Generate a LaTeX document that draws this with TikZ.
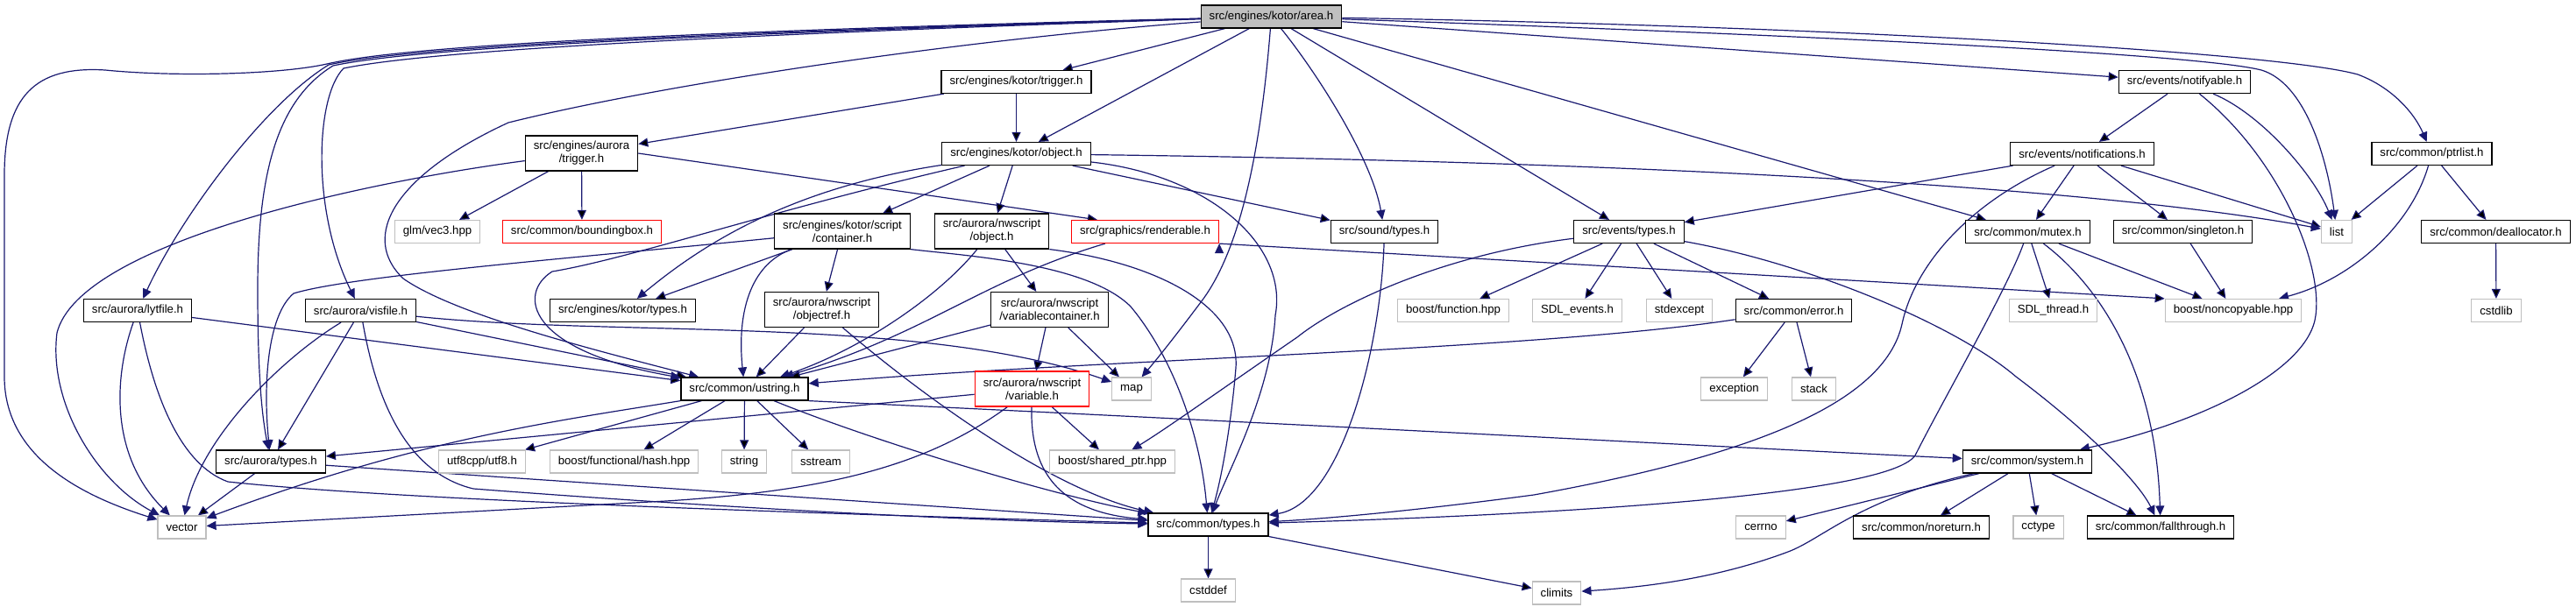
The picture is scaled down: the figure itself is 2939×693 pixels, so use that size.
\documentclass[tikz,border=0pt]{standalone}
\usepackage{fontspec}
\setmainfont{Liberation Sans}
\usetikzlibrary{arrows.meta, backgrounds}
\definecolor{edgeblue}{RGB}{25,25,112}
\definecolor{boxgray}{RGB}{191,191,191}

\begin{document}
\begin{tikzpicture}[x=1pt,y=-1pt,
  hdr/.style={draw=black,line width=1.2pt,fill=white,inner xsep=9.5pt,inner ysep=0pt,minimum height=26pt,align=center,font=\fontsize{13.2}{15}\selectfont},
  twoline/.style={minimum height=40pt},
  syshdr/.style={hdr,draw=boxgray},
  redhdr/.style={hdr,draw=red},
  roothdr/.style={hdr,fill=boxgray},
  dep/.style={draw=edgeblue,line width=1.2pt,-{Triangle[length=11pt,width=10pt]}}]
\useasboundingbox (0,0) rectangle (2939,693);

\node[roothdr] (area) at (1450.5,19) {src/engines/kotor/area.h};
\node[hdr] (ktrig) at (1159.5,93.5) {src/engines/kotor/trigger.h};
\node[hdr] (notifyable) at (2492.5,93.5) {src/events/notifyable.h};
\node[hdr,twoline] (atrig) at (663.5,175) {src/engines/aurora\\/trigger.h};
\node[hdr] (kobj) at (1159.5,175.5) {src/engines/kotor/object.h};
\node[hdr] (notif) at (2375.5,175.5) {src/events/notifications.h};
\node[hdr] (ptrlist) at (2774.5,175.5) {src/common/ptrlist.h};
\node[syshdr] (vec3) at (499,264.5) {glm/vec3.hpp};
\node[redhdr] (bbox) at (664,264.5) {src/common/boundingbox.h};
\node[hdr,twoline] (cont) at (961,264) {src/engines/kotor/script\\/container.h};
\node[hdr,twoline] (nwobj) at (1131.5,264) {src/aurora/nwscript\\/object.h};
\node[redhdr] (rend) at (1306.5,264.5) {src/graphics/renderable.h};
\node[hdr] (sndtypes) at (1579.5,264.5) {src/sound/types.h};
\node[hdr] (evtypes) at (1858.5,264.5) {src/events/types.h};
\node[hdr] (mutex) at (2313.5,264.5) {src/common/mutex.h};
\node[hdr] (singleton) at (2490.5,264.5) {src/common/singleton.h};
\node[syshdr] (list) at (2666,264.5) {list};
\node[hdr] (dealloc) at (2847.5,264.5) {src/common/deallocator.h};
\node[hdr] (lytfile) at (157,354.5) {src/aurora/lytfile.h};
\node[hdr] (visfile) at (411.5,354.5) {src/aurora/visfile.h};
\node[hdr] (ktypes) at (710.5,354.5) {src/engines/kotor/types.h};
\node[hdr,twoline] (objref) at (937.5,353.5) {src/aurora/nwscript\\/objectref.h};
\node[hdr,twoline] (varcont) at (1197.5,353.5) {src/aurora/nwscript\\/variablecontainer.h};
\node[syshdr] (function) at (1658,354.5) {boost/function.hpp};
\node[syshdr] (sdlevents) at (1799.5,354.5) {SDL\_events.h};
\node[syshdr] (stdexcept) at (1916,354.5) {stdexcept};
\node[hdr] (error) at (2046.5,354.5) {src/common/error.h};
\node[syshdr] (sdlthread) at (2342.5,354.5) {SDL\_thread.h};
\node[syshdr] (noncopy) at (2548,354.5) {boost/noncopyable.hpp};
\node[syshdr] (cstdlib) at (2848,354.5) {cstdlib};
\node[hdr] (ustring) at (849.5,444) {src/common/ustring.h};
\node[redhdr,twoline] (variable) at (1177.5,444) {src/aurora/nwscript\\/variable.h};
\node[syshdr] (map) at (1291,444) {map};
\node[syshdr] (exception) at (1978.5,444) {exception};
\node[syshdr] (stack) at (2069.5,444) {stack};
\node[hdr] (atypes) at (309,527) {src/aurora/types.h};
\node[syshdr] (utf8) at (550,527) {utf8cpp/utf8.h};
\node[syshdr] (hash) at (712,527) {boost/functional/hash.hpp};
\node[syshdr] (string) at (849,527) {string};
\node[syshdr] (sstream) at (936.5,527) {sstream};
\node[syshdr] (sharedptr) at (1269,527) {boost/shared\_ptr.hpp};
\node[hdr] (system) at (2313,527) {src/common/system.h};
\node[syshdr] (vector) at (207.5,602) {vector};
\node[hdr] (ctypes) at (1378.5,599) {src/common/types.h};
\node[syshdr] (cerrno) at (2009,602) {cerrno};
\node[hdr] (noreturn) at (2192,602) {src/common/noreturn.h};
\node[syshdr] (cctype) at (2325.5,602) {cctype};
\node[hdr] (fallthru) at (2465,602) {src/common/fallthrough.h};
\node[syshdr] (cstddef) at (1378.5,674) {cstddef};
\node[syshdr] (climits) at (1776,677) {climits};

\begin{scope}[on background layer]
\draw[dep]
  (area) edge (ktrig)
  (area) edge (kobj)
  (area) edge (evtypes)
  (area) edge (mutex)
  (area) edge (notifyable)
  (ktrig) edge (atrig)
  (ktrig) edge (kobj)
  (atrig) edge (vec3)
  (atrig) edge (bbox)
  (atrig.east) edge ([xshift=30pt]rend.north west)
  (kobj) edge (cont)
  (kobj) edge (nwobj)
  (kobj) edge (sndtypes)
  (cont) edge (ktypes)
  (cont) edge (objref)
  (nwobj) edge (varcont)
  (rend.south east) edge (noncopy.north west)
  (varcont) edge (ustring)
  (varcont) edge (variable)
  (varcont) edge (map)
  (variable) edge (atypes)
  (variable) edge (sharedptr)
  (objref) edge (ustring)
  (lytfile) edge (ustring)
  (visfile) edge (ustring)
  (visfile) edge (atypes)
  (atypes) edge (vector)
  (atypes) edge (ctypes)
  (ustring) edge (utf8)
  (ustring) edge (hash)
  (ustring) edge (string)
  (ustring) edge (sstream)
  (evtypes) edge (function)
  (evtypes) edge (sdlevents)
  (evtypes) edge (stdexcept)
  (evtypes) edge (error)
  (error) edge (exception)
  (error) edge (stack)
  (notifyable) edge (notif)
  (notif) edge (evtypes)
  (notif) edge (mutex)
  (notif) edge (singleton)
  (notif) edge (list)
  (mutex) edge (sdlthread)
  (mutex) edge (noncopy)
  (singleton) edge (noncopy)
  (ptrlist) edge (list)
  (ptrlist) edge (dealloc)
  (dealloc) edge (cstdlib)
  (system) edge (noreturn)
  (system) edge (cctype)
  (system) edge (fallthru)
  (system) edge (cerrno)
  (ctypes) edge (cstddef)
  (ctypes) edge (climits);

\draw[dep] (area) .. controls (700,38) and (450,55) .. (373,73) .. controls (320,85) and (200,88) .. (120,80) .. controls (40,75) and (5,110) .. (5,200) -- (5,430) .. controls (5,520) and (90,565) .. (vector);
\draw[dep] (area) .. controls (700,40) and (450,57) .. (375,74) .. controls (300,120) and (205,250) .. (lytfile);
\draw[dep] (area) .. controls (700,42) and (460,58) .. (380,75) .. controls (315,115) and (294,200) .. (294,330) .. controls (294,420) and (298,470) .. (atypes);
\draw[dep] (area) .. controls (700,44) and (470,62) .. (392,78) .. controls (360,110) and (355,240) .. (visfile);
\draw[dep] (area) .. controls (1100,45) and (760,95) .. (580,140) .. controls (450,200) and (410,270) .. (460,318) .. controls (520,360) and (680,400) .. (ustring);
\draw[dep] (area) .. controls (1440,150) and (1420,280) .. (1370,345) .. controls (1340,385) and (1320,410) .. (map);
\draw[dep] (area) .. controls (1500,80) and (1565,180) .. (sndtypes);
\draw[dep] (area) .. controls (2000,38) and (2500,60) .. (2580,80) .. controls (2630,95) and (2655,180) .. (list);
\draw[dep] (area) .. controls (2100,30) and (2600,60) .. (2690,85) .. controls (2730,100) and (2755,130) .. (ptrlist);
\draw[dep] (atrig) .. controls (400,210) and (90,280) .. (65,380) .. controls (55,460) and (110,550) .. (vector);
\draw[dep] (kobj) .. controls (900,215) and (800,280) .. (ktypes);
\draw[dep] (kobj) .. controls (880,240) and (720,295) .. (630,310) .. controls (590,335) and (600,400) .. (ustring);
\draw[dep] (kobj) .. controls (1900,185) and (2400,215) .. (list);
\draw[dep] (kobj) .. controls (1380,200) and (1470,280) .. (1455,360) .. controls (1450,450) and (1400,540) .. (ctypes);
\draw[dep] (cont) .. controls (860,300) and (840,350) .. (ustring);
\draw[dep] (cont) .. controls (650,295) and (400,315) .. (335,335) .. controls (305,360) and (300,440) .. (atypes);
\draw[dep] (cont.south east) .. controls (1100,292) and (1240,300) .. (1290,350) .. controls (1340,410) and (1370,500) .. (ctypes);
\draw[dep] (objref) .. controls (1050,450) and (1200,560) .. (ctypes);
\draw[dep] (nwobj) .. controls (1070,340) and (980,400) .. (ustring);
\draw[dep] (nwobj.south east) .. controls (1320,300) and (1415,350) .. (1410,420) .. controls (1405,480) and (1395,540) .. (ctypes);
\draw[dep] (rend) .. controls (1120,320) and (1060,380) .. (ustring);
\draw[dep] (variable) .. controls (1060,530) and (950,560) .. (760,572) -- (vector);
\draw[dep] (variable) .. controls (1175,545) and (1215,585) .. (ctypes);
\draw[dep] (lytfile) .. controls (130,430) and (125,520) .. (vector);
\draw[dep] (lytfile) .. controls (175,450) and (205,530) .. (260,550) .. controls (400,565) and (700,580) .. (ctypes);
\draw[dep] (visfile) .. controls (320,410) and (230,500) .. (vector);
\draw[dep] (visfile) .. controls (430,460) and (465,540) .. (540,558) .. controls (800,578) and (1100,595) .. (ctypes);
\draw[dep] (visfile) .. controls (700,385) and (1050,360) .. (map);
\draw[dep] (ustring.south west) .. controls (640,480) and (480,500) .. (vector);
\draw[dep] (ustring) .. controls (1000,505) and (1200,565) .. (ctypes);
\draw[dep] (ustring.south east) .. controls (1500,485) and (2000,512) .. (system);
\draw[dep] (error) .. controls (1750,400) and (1250,410) .. (ustring);
\draw[dep] (sndtypes) .. controls (1575,400) and (1530,575) .. (ctypes);
\draw[dep] (evtypes) .. controls (1650,290) and (1530,345) .. (1480,385) .. controls (1400,440) and (1330,490) .. (sharedptr);
\draw[dep] (evtypes) .. controls (2060,300) and (2230,370) .. (2300,430) .. controls (2380,490) and (2440,550) .. (fallthru);
\draw[dep] (notifyable) .. controls (2580,130) and (2640,200) .. (list);
\draw[dep] (notifyable) .. controls (2600,180) and (2650,300) .. (2642,360) .. controls (2635,420) and (2520,480) .. (system);
\draw[dep] (notif) .. controls (2250,230) and (2185,300) .. (2170,370) .. controls (2150,460) and (2000,520) .. (1750,565) .. controls (1600,585) and (1500,593) .. (ctypes);
\draw[dep] (mutex) .. controls (2290,330) and (2215,460) .. (2185,520) .. controls (2150,570) and (1700,590) .. (ctypes);
\draw[dep] (mutex) .. controls (2400,330) and (2460,430) .. (fallthru);
\draw[dep] (ptrlist) .. controls (2750,260) and (2680,320) .. (noncopy);
\draw[dep] (system) .. controls (2120,570) and (2080,615) .. (2040,630) .. controls (1960,660) and (1880,670) .. (climits);
\end{scope}
\end{tikzpicture}
\end{document}
